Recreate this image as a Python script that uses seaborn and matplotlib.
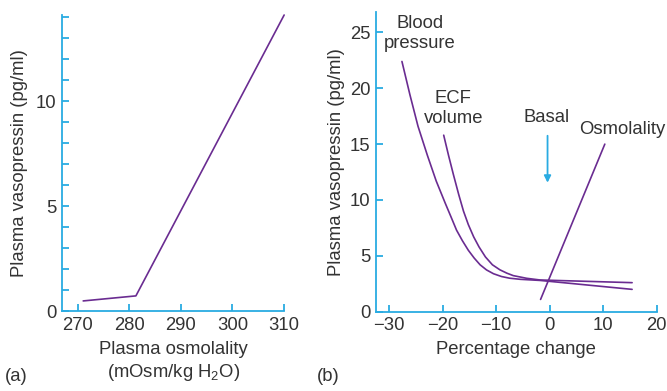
import matplotlib
matplotlib.use("Agg")
import matplotlib.pyplot as plt
import seaborn as sns

# panel (a): vasopressin vs plasma osmolality
osm_x = [271.1, 281.3, 310.0]
osm_y = [0.48, 0.72, 14.1]

# panel (b): vasopressin vs percentage change
bp_x = [-27.6, -26.1, -24.6, -22.85, -21.2, -19.5, -18.4, -17.4, -16.3, -15.2,
        -14.1, -13.0, -11.8, -10.5, -9.0, -7.5, -5.5, -1.8, 15.4]
bp_y = [22.4, 19.4, 16.6, 14.0, 11.7, 9.7, 8.45, 7.3, 6.35, 5.5,
        4.8, 4.2, 3.74, 3.4, 3.15, 3.0, 2.9, 2.8, 2.0]
ecf_x = [-19.8, -18.9, -18.0, -17.0, -16.1, -15.2, -14.2, -13.2, -12.0, -10.7,
         -9.3, -8.0, -6.8, -4.3, -1.8, 15.4]
ecf_y = [15.8, 14.0, 12.3, 10.5, 9.0, 7.8, 6.7, 5.8, 4.9, 4.2,
         3.75, 3.45, 3.23, 2.99, 2.84, 2.6]
osmb_x = [-1.7, 10.3]
osmb_y = [1.1, 15.0]

sns.set_style("ticks")
plt.rcParams["font.family"] = ["Liberation Sans", "DejaVu Sans"]
plt.rcParams["mathtext.fontset"] = "custom"
plt.rcParams["mathtext.rm"] = "Liberation Sans"

PURPLE = "#6a2c91"
CYAN = "#29abe2"
TXT = "#333333"
FS = 13.3

fig = plt.figure(figsize=(6.67, 3.91), dpi=100)
ax1 = fig.add_axes([0.093, 0.2046, 0.333, 0.757])
ax2 = fig.add_axes([0.5633, 0.2028, 0.4213, 0.7657])


def style(ax):
    sns.despine(ax=ax)
    for s in ["left", "bottom"]:
        ax.spines[s].set_color(CYAN)
        ax.spines[s].set_linewidth(1.3)
    ax.tick_params(which="both", direction="in", color=CYAN, width=1.3,
                   length=5, labelsize=FS, labelcolor=TXT, pad=4)
    ax.set_facecolor("white")


sns.lineplot(x=osm_x, y=osm_y, ax=ax1, color=PURPLE, lw=1.2, sort=False,
             estimator=None)
ax1.set_xlim(267, 310)
ax1.set_ylim(0, 14.1)
ax1.set_xticks([270, 280, 290, 300, 310])
ax1.set_yticks([0, 5, 10])
ax1.set_yticks(range(1, 15), minor=True)
ax1.set_xlabel("Plasma osmolality\n(mOsm/kg H$_{2}$O)", fontsize=FS, color=TXT,
               labelpad=5, linespacing=1.3)
ax1.set_ylabel("Plasma vasopressin (pg/ml)", fontsize=FS, color=TXT, labelpad=6)
style(ax1)
ax1.lines[0].set_clip_on(False)

for xs, ys in [(bp_x, bp_y), (ecf_x, ecf_y), (osmb_x, osmb_y)]:
    sns.lineplot(x=xs, y=ys, ax=ax2, color=PURPLE, lw=1.2, sort=False,
                 estimator=None)
ax2.set_xlim(-32.5, 20)
ax2.set_ylim(0, 26.8)
ax2.set_xticks([-30, -20, -10, 0, 10, 20])
ax2.set_yticks([0, 5, 10, 15, 20, 25])
ax2.set_xlabel("Percentage change", fontsize=FS, color=TXT, labelpad=5)
ax2.set_ylabel("Plasma vasopressin (pg/ml)", fontsize=FS, color=TXT, labelpad=3)
style(ax2)
for ln in ax2.lines:
    ln.set_clip_on(False)
    ln.set_solid_joinstyle("round")

ax2.text(-24.3, 24.9, "Blood\npressure", ha="center", va="center",
         fontsize=FS, color=TXT, linespacing=1.2)
ax2.text(-18.0, 18.2, "ECF\nvolume", ha="center", va="center",
         fontsize=FS, color=TXT, linespacing=1.2)
ax2.text(-0.5, 17.4, "Basal", ha="center", va="center", fontsize=FS, color=TXT)
ax2.text(13.5, 16.3, "Osmolality", ha="center", va="center", fontsize=FS,
         color=TXT)
ax2.annotate("", xy=(-0.4, 11.3), xytext=(-0.4, 16.0),
             arrowprops=dict(arrowstyle="-|>", color=CYAN, lw=1.3,
                             mutation_scale=10))

fig.text(0.008, 0.025, "(a)", fontsize=FS, color=TXT)
fig.text(0.475, 0.025, "(b)", fontsize=FS, color=TXT)

fig.savefig("out.png", dpi=100)
